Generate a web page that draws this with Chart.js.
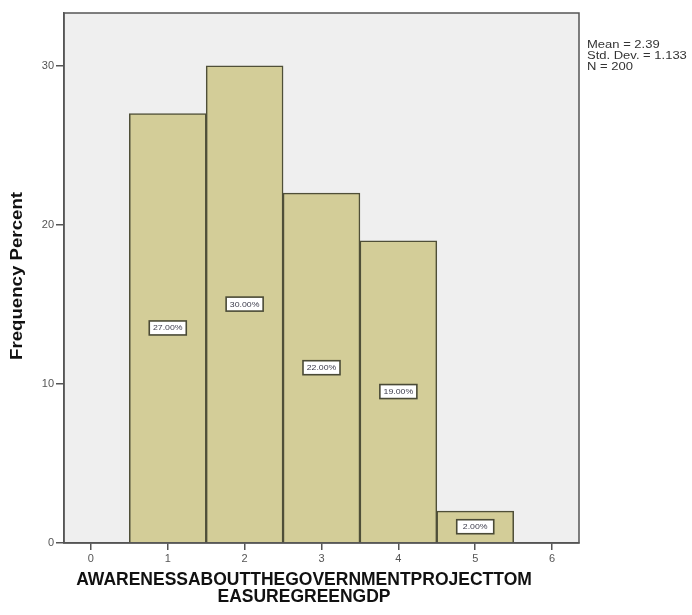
<!DOCTYPE html>
<html><head><meta charset="utf-8">
<script src="https://cdn.jsdelivr.net/npm/chart.js@4.4.1/dist/chart.umd.min.js"></script>
<style>html,body{margin:0;padding:0;background:#fff}#wrap{width:692px;height:615px}</style>
</head><body><div id="wrap"><canvas id="c" width="692" height="615"></canvas></div>
<script>
const categories = [1, 2, 3, 4, 5];
const percentValues = [27, 30, 22, 19, 2];
const barLabels = ["27.00%", "30.00%", "22.00%", "19.00%", "2.00%"];
const xTicks = [0, 1, 2, 3, 4, 5, 6];
const yTicks = [0, 10, 20, 30];
const statsLines = ["Mean = 2.39", "Std. Dev. = 1.133", "N = 200"];
const xTitleLines = ["AWARENESSABOUTTHEGOVERNMENTPROJECTTOM", "EASUREGREENGDP"];
const yTitle = "Frequency Percent";

const FONT = "'Liberation Sans', Arial, sans-serif";

function stretchText(ctx, s, x, y, sx) {
  ctx.save();
  ctx.translate(x, y);
  ctx.scale(sx, 1);
  ctx.fillText(s, 0, 0);
  ctx.restore();
}

const decor = {
  id: 'decor',
  beforeDraw(chart) {
    const {ctx, chartArea: a} = chart;
    ctx.save();
    ctx.fillStyle = '#efefef';
    ctx.fillRect(a.left, a.top, a.right - a.left, a.bottom - a.top);
    ctx.restore();
  },
  afterDatasetsDraw(chart) {
    const {ctx, chartArea: a} = chart;
    const meta = chart.getDatasetMeta(0);
    ctx.save();
    ctx.font = '7px ' + FONT;
    meta.data.forEach((el, i) => {
      const cx = el.x;
      const cy = (el.y + el.base) / 2;
      const w = 37, h = 14;
      ctx.fillStyle = '#ffffff';
      ctx.fillRect(cx - w/2, cy - h/2, w, h);
      ctx.strokeStyle = '#4a4a36';
      ctx.lineWidth = 1.6;
      ctx.strokeRect(cx - w/2, cy - h/2, w, h);
      ctx.fillStyle = '#3a3a4a';
      ctx.textAlign = 'center';
      ctx.textBaseline = 'middle';
      stretchText(ctx, barLabels[i], cx, cy + 0.5, 1.25);
    });
    // plot frame
    ctx.strokeStyle = '#555';
    ctx.lineWidth = 1.5;
    ctx.strokeRect(a.left, a.top, a.right - a.left, a.bottom - a.top);
    // stats
    ctx.font = '10px ' + FONT;
    ctx.fillStyle = '#333';
    ctx.textAlign = 'left';
    ctx.textBaseline = 'middle';
    statsLines.forEach((s, i) => stretchText(ctx, s, 587, 45 + i * 11, 1.3));
    // axis titles
    ctx.font = 'bold 17.5px ' + FONT;
    ctx.textAlign = 'center';
    ctx.fillStyle = '#111';
    xTitleLines.forEach((s, i) => ctx.fillText(s, 304, 580 + i * 17));
    ctx.translate(18, 276);
    ctx.rotate(-Math.PI / 2);
    ctx.font = 'bold 16px ' + FONT;
    const tw = ctx.measureText(yTitle).width;
    ctx.scale(168 / tw, 1);
    ctx.fillText(yTitle, 0, 0);
    ctx.restore();
  }
};

new Chart(document.getElementById('c'), {
  type: 'bar',
  data: {
    datasets: [{
      data: categories.map((c, i) => ({x: c, y: percentValues[i]})),
      backgroundColor: '#d3cd98',
      borderColor: '#4f4f38',
      borderWidth: 1.5,
      barPercentage: 1,
      categoryPercentage: 1
    }]
  },
  options: {
    responsive: false,
    animation: false,
    layout: {padding: {left: 0, right: 113, top: 13, bottom: 0}},
    plugins: {legend: {display: false}, tooltip: {enabled: false}},
    scales: {
      x: {
        type: 'linear',
        offset: false,
        min: -0.35, max: 6.35,
        afterBuildTicks: s => { s.ticks = xTicks.map(v => ({value: v})); },
        afterFit: s => { s.height = 72; },
        grid: {offset: false, drawOnChartArea: false, drawTicks: true, tickLength: 7, color: '#555', lineWidth: 1.5},
        border: {display: true, color: '#555', width: 1.5},
        ticks: {font: {family: FONT, size: 11}, color: '#555', padding: 2}
      },
      y: {
        min: 0, max: 33.33,
        afterBuildTicks: s => { s.ticks = yTicks.map(v => ({value: v})); },
        afterFit: s => { s.width = 64; },
        grid: {drawOnChartArea: false, drawTicks: true, tickLength: 8, color: '#555', lineWidth: 1.5},
        border: {display: true, color: '#555', width: 1.5},
        ticks: {font: {family: FONT, size: 11}, color: '#555', padding: 2}
      }
    }
  },
  plugins: [decor]
});
</script>
</body></html>
